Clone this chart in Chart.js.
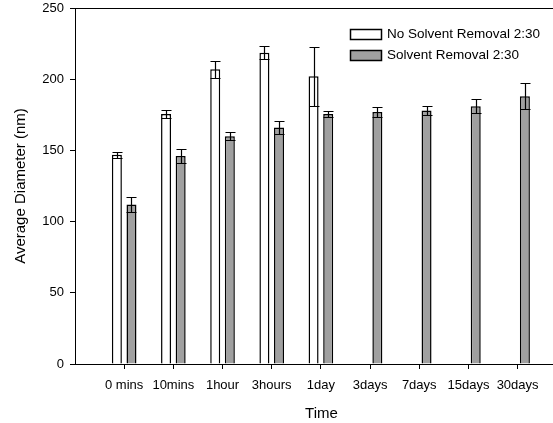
<!DOCTYPE html>
<html>
<head>
<meta charset="utf-8">
<script src="https://cdn.jsdelivr.net/npm/chart.js@4"></script>
<style>
  html, body { margin: 0; padding: 0; background: #fff; overflow: hidden; }
  canvas { display: block; }
</style>
</head>
<body>
<canvas id="chart" width="553" height="423"></canvas>
<script>
// Data
const timeLabels = ["0 mins", "10mins", "1hour", "3hours", "1day", "3days", "7days", "15days", "30days"]
const noRemoval = [147, 175.5, 207, 218.5, 202, null, null, null, null]
const noRemovalErr = [2, 3, 6, 4.5, 20.5, null, null, null, null]
const removal = [112, 146, 160, 166, 175.5, 177, 178, 181, 188]
const removalErr = [5, 5, 3, 4.5, 2, 3.5, 3, 5, 9]
const yTicks = [0, 50, 100, 150, 200, 250]

const seriesLabels = ["No Solvent Removal 2:30", "Solvent Removal 2:30"]
const errors = [noRemovalErr, removalErr]

const FONT = "'Liberation Sans', Arial, Helvetica, sans-serif"

const toPoints = values => values.map((y, i) => ({ x: i, y }))

// Error bars with caps on both ends, drawn over the bars
const errorBars = {
  id: "errorBars",
  afterDatasetsDraw(chart) {
    const ctx = chart.ctx
    const yScale = chart.scales.y
    ctx.save()
    ctx.strokeStyle = "#000"
    ctx.lineWidth = 1.2
    chart.data.datasets.forEach((ds, d) => {
      const meta = chart.getDatasetMeta(d)
      meta.data.forEach((bar, j) => {
        const v = ds.data[j].y
        const e = errors[d][j]
        if (v == null || e == null) return
        const x = Math.round(bar.x) + 0.5
        const half = bar.width / 2
        const top = Math.round(yScale.getPixelForValue(v + e)) + 0.5
        const bot = Math.round(yScale.getPixelForValue(v - e)) + 0.5
        ctx.beginPath()
        ctx.moveTo(x, top)
        ctx.lineTo(x, bot)
        ctx.moveTo(x - half, top)
        ctx.lineTo(x + half, top)
        ctx.moveTo(x - half, bot)
        ctx.lineTo(x + half, bot)
        ctx.stroke()
      })
    })
    ctx.restore()
  }
}

// Top frame line, legend and axis titles
const decorations = {
  id: "decorations",
  afterDraw(chart) {
    const ctx = chart.ctx
    const area = chart.chartArea
    ctx.save()

    ctx.strokeStyle = "#000"
    ctx.lineWidth = 1
    ctx.beginPath()
    ctx.moveTo(area.left, Math.round(area.top) + 0.5)
    ctx.lineTo(area.right, Math.round(area.top) + 0.5)
    ctx.stroke()

    // legend
    ctx.font = "13.5px " + FONT
    ctx.textBaseline = "middle"
    ctx.textAlign = "left"
    ctx.lineWidth = 1.5
    chart.data.datasets.forEach((ds, i) => {
      const y = 29.5 + i * 21
      ctx.fillStyle = ds.backgroundColor
      ctx.fillRect(350.5, y, 31, 10)
      ctx.strokeRect(350.5, y, 31, 10)
      ctx.fillStyle = "#000"
      ctx.fillText(ds.label, 387, y + 5)
    })

    // axis titles
    ctx.font = "15px " + FONT
    ctx.textAlign = "center"
    ctx.fillText("Time", 321.5, 414)
    ctx.translate(21, (area.top + area.bottom) / 2)
    ctx.rotate(-Math.PI / 2)
    ctx.fillText("Average Diameter (nm)", 0, 0)

    ctx.restore()
  }
}

new Chart(document.getElementById("chart"), {
  type: "bar",
  data: {
    datasets: [
      {
        label: seriesLabels[0],
        data: toPoints(noRemoval),
        backgroundColor: "#ffffff",
        borderColor: "#000",
        borderWidth: 1.5
      },
      {
        label: seriesLabels[1],
        data: toPoints(removal),
        backgroundColor: "#a0a0a0",
        borderColor: "#000",
        borderWidth: 1.5
      }
    ]
  },
  options: {
    responsive: false,
    animation: false,
    categoryPercentage: 0.594,
    barPercentage: 0.685,
    layout: { padding: { top: 8, left: 0, right: 0, bottom: 0 } },
    plugins: {
      legend: { display: false },
      tooltip: { enabled: false }
    },
    scales: {
      x: {
        type: "linear",
        min: -1,
        max: 8.72,
        offset: false,
        afterBuildTicks: scale => {
          scale.ticks = timeLabels.map((_, i) => ({ value: i }))
        },
        afterFit: scale => {
          scale.height = 59
          scale.paddingLeft = 0
          scale.paddingRight = 0
        },
        grid: {
          offset: false,
          drawOnChartArea: false,
          drawTicks: true,
          tickLength: 5,
          color: "#000"
        },
        border: { color: "#000", width: 1 },
        ticks: {
          autoSkip: false,
          maxRotation: 0,
          padding: 9,
          color: "#000",
          font: { family: FONT, size: 13 },
          callback: value => timeLabels[value] ?? ""
        }
      },
      y: {
        min: 0,
        max: 250,
        afterBuildTicks: scale => {
          scale.ticks = yTicks.map(value => ({ value }))
        },
        afterFit: scale => {
          scale.width = 75
          scale.paddingTop = 0
          scale.paddingBottom = 0
        },
        grid: {
          drawOnChartArea: false,
          drawTicks: true,
          tickLength: 5,
          color: "#000"
        },
        border: { color: "#000", width: 1 },
        ticks: {
          padding: 6,
          color: "#000",
          font: { family: FONT, size: 13 }
        }
      }
    }
  },
  plugins: [errorBars, decorations]
})
</script>
</body>
</html>
